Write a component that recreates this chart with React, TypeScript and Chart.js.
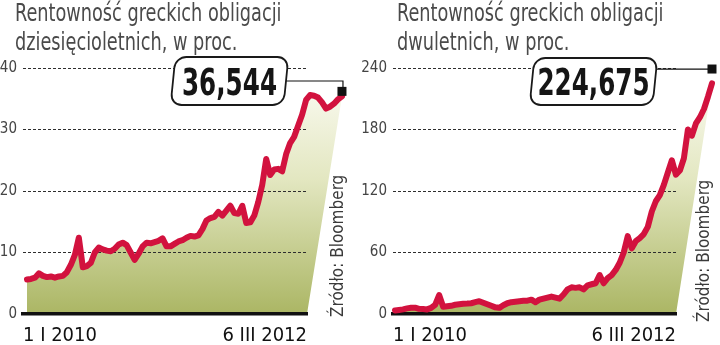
import React, { useEffect, useRef } from "react";
import { Chart, registerables } from "chart.js";

Chart.register(...registerables);

// ---------- data ----------
const tenYearYield = [
  5.6, 5.7, 5.9, 6.6, 6.2, 6.0, 6.1, 5.9, 6.1, 6.2,
  6.8, 8.0, 9.6, 12.4, 7.6, 7.8, 8.3, 10.0, 10.8, 10.5,
  10.3, 10.2, 10.6, 11.3, 11.6, 11.2, 10.0, 8.8, 9.8, 11.0,
  11.6, 11.5, 11.7, 11.9, 12.3, 11.0, 11.0, 11.4, 11.8, 12.0,
  12.4, 12.7, 12.6, 12.8, 13.8, 15.2, 15.6, 15.8, 16.6, 16.0,
  16.8, 17.6, 16.4, 16.3, 17.6, 14.8, 14.9, 16.0, 18.2, 21.0,
  25.2, 22.6, 23.5, 23.6, 23.2, 26.0, 27.8, 28.8, 30.6, 32.4,
  34.8, 35.6, 35.5, 35.2, 34.4, 33.4, 33.7, 34.2, 34.9, 35.4,
];

const twoYearYield = [
  3.5, 4.0, 4.5, 5.5, 6.0, 6.2, 5.0, 4.8, 4.5, 6.0,
  9.0, 18.5, 7.0, 7.5, 8.0, 9.0, 9.5, 10.0, 10.2, 10.5,
  11.5, 12.5, 11.0, 9.5, 8.0, 6.5, 6.0, 8.5, 10.5, 11.5,
  12.0, 12.5, 13.0, 13.0, 14.0, 11.5, 14.0, 15.0, 16.0, 17.0,
  16.0, 15.0, 19.0, 24.0, 26.0, 25.5, 26.0, 24.0, 28.0, 29.0,
  30.0, 38.0, 30.0, 35.0, 38.0, 43.0, 50.0, 60.0, 76.0, 64.0,
  71.0, 74.0, 78.0, 85.0, 100.0, 110.0, 116.0, 126.0, 138.0, 150.0,
  136.0, 140.0, 152.0, 180.0, 174.0, 186.0, 192.0, 200.0, 212.0, 225.0,
];

const xTickLabels = ["1 I 2010", "6 III 2012"];
const tenYearTitle = ["Rentowność greckich obligacji", "dziesięcioletnich, w proc."];
const twoYearTitle = ["Rentowność greckich obligacji", "dwuletnich, w proc."];
const tenYearLastLabel = "36,544";
const twoYearLastLabel = "224,675";
const tenYearMarkerValue = 36.2;
const twoYearMarkerValue = 239;
const sourceText = "Źródło: Bloomberg";

// ---------- styles ----------
const NARROW = '"DejaVu Sans Condensed", "DejaVu Sans", sans-serif';
const LINE_RED = "#d2123e";

type PanelCfg = {
  values: number[];
  yMax: number;
  yStep: number;
  yAxisWidth: number;
  padRight: number;
  xMin: number;
  xMax: number;
  title: string[];
  titleLeft: number;
  lastLabel: string;
  markerValue: number;
  box: { x: number; y: number; w: number; h: number };
  connectorY: number | null;
  source: { x: number; y: number };
};

function decorPlugin(cfg: PanelCfg) {
  return {
    id: "panelDecor",
    beforeDraw(chart: any) {
      const meta = chart.getDatasetMeta(0);
      const pts = meta.data;
      if (!pts || !pts.length) return;
      const ctx = chart.ctx as CanvasRenderingContext2D;
      const ca = chart.chartArea;
      const yScale = chart.scales.y;
      const y0 = yScale.getPixelForValue(0);
      const grad = ctx.createLinearGradient(0, ca.top, 0, y0);
      grad.addColorStop(0, "#fdfdf7");
      grad.addColorStop(0.45, "#e3e7c1");
      grad.addColorStop(1, "#abb664");
      ctx.save();
      ctx.beginPath();
      ctx.moveTo(pts[0].x, y0);
      for (const p of pts) ctx.lineTo(p.x, p.y);
      ctx.lineTo(ca.right, y0);
      ctx.closePath();
      ctx.fillStyle = grad;
      ctx.fill();
      ctx.restore();
    },
    afterDraw(chart: any) {
      const ctx = chart.ctx as CanvasRenderingContext2D;
      const meta = chart.getDatasetMeta(0);
      const pts = meta.data;
      const last = pts[pts.length - 1];
      const yScale = chart.scales.y;
      const my = yScale.getPixelForValue(cfg.markerValue);
      const mx = last.x;
      const { x, y, w, h } = cfg.box;
      const cy = y + h / 2;

      ctx.save();
      // connector
      ctx.strokeStyle = "#111";
      ctx.lineWidth = 1.2;
      ctx.beginPath();
      if (cfg.connectorY !== null) {
        ctx.moveTo(x + w, cfg.connectorY);
        ctx.lineTo(mx + 1, cfg.connectorY);
        ctx.lineTo(mx + 1, my - 4);
      } else {
        ctx.moveTo(x + w, my);
        ctx.lineTo(mx, my);
      }
      ctx.stroke();
      // marker
      ctx.fillStyle = "#111";
      ctx.fillRect(mx - 4.5, my - 4.5, 9, 9);

      // box (slightly skewed)
      ctx.save();
      ctx.translate(x + w / 2, cy);
      ctx.transform(1, 0, -0.1, 1, 0, 0);
      ctx.beginPath();
      (ctx as any).roundRect(-w / 2, -h / 2, w, h, 11);
      ctx.fillStyle = "#ffffff";
      ctx.fill();
      ctx.lineWidth = 1.8;
      ctx.strokeStyle = "#1a1a1a";
      ctx.stroke();
      ctx.restore();

      // value text (horizontally condensed)
      ctx.save();
      ctx.translate(x + w / 2, y + h - 10);
      ctx.scale(0.74, 1);
      ctx.fillStyle = "#151515";
      ctx.font = `bold 37px ${NARROW}`;
      ctx.textAlign = "center";
      ctx.textBaseline = "alphabetic";
      ctx.fillText(cfg.lastLabel, 0, 0);
      ctx.restore();

      // source
      ctx.translate(cfg.source.x, cfg.source.y);
      ctx.rotate(-Math.PI / 2);
      ctx.font = `17px ${NARROW}`;
      ctx.fillStyle = "#3a3a3a";
      ctx.textAlign = "left";
      ctx.textBaseline = "middle";
      ctx.fillText(sourceText, 0, 0);
      ctx.restore();
    },
  };
}

function buildConfig(cfg: PanelCfg): any {
  return {
    type: "line",
    data: {
      datasets: [
        {
          data: cfg.values.map((v, i) => ({ x: i, y: v })),
          borderColor: LINE_RED,
          borderWidth: 6,
          pointRadius: 0,
          tension: 0,
          fill: false,
          clip: false,
          borderJoinStyle: "round",
          borderCapStyle: "round",
        },
      ],
    },
    options: {
      animation: false,
      responsive: false,
      events: [],
      layout: { padding: { left: 0, right: cfg.padRight, top: 68, bottom: 0 } },
      plugins: {
        legend: { display: false },
        tooltip: { enabled: false },
        title: { display: false },
      },
      scales: {
        x: {
          type: "linear",
          bounds: "data",
          afterDataLimits: (s: any) => {
            s.min = cfg.xMin;
            s.max = cfg.xMax;
          },
          afterBuildTicks: (s: any) => {
            s.ticks = [{ value: cfg.xMin }, { value: cfg.xMax }];
          },
          afterFit: (s: any) => {
            s.height = 31;
          },
          grid: { display: false },
          border: { display: true, color: "#111", width: 3.5 },
          ticks: {
            callback: (_v: any, i: number) => xTickLabels[i],
            align: "inner",
            maxRotation: 0,
            autoSkip: false,
            padding: 2,
            color: "#111",
            font: { family: NARROW, size: 20 },
          },
        },
        y: {
          min: 0,
          max: cfg.yMax,
          afterFit: (s: any) => {
            s.width = cfg.yAxisWidth;
          },
          grid: {
            drawTicks: false,
            lineWidth: 1,
            color: (c: any) =>
              c.tick && c.tick.value === 0 ? "rgba(0,0,0,0)" : "#2e2e2e",
          },
          border: { display: false, dash: [3, 2] },
          ticks: {
            stepSize: cfg.yStep,
            padding: 6,
            color: "#444",
            font: { family: NARROW, size: 15 },
          },
        },
      },
    },
    plugins: [decorPlugin(cfg)],
  };
}

const leftPanel: PanelCfg = {
  values: tenYearYield,
  yMax: 40,
  yStep: 10,
  yAxisWidth: 23,
  padRight: 53,
  xMin: -1.003,
  xMax: 70.23,
  title: tenYearTitle,
  titleLeft: 15,
  lastLabel: tenYearLastLabel,
  markerValue: tenYearMarkerValue,
  box: { x: 173, y: 57, w: 113, h: 48 },
  connectorY: 81,
  source: { x: 339, y: 317 },
};

const rightPanel: PanelCfg = {
  values: twoYearYield,
  yMax: 240,
  yStep: 60,
  yAxisWidth: 33,
  padRight: 44,
  xMin: -0.498,
  xMax: 70.03,
  title: twoYearTitle,
  titleLeft: 37,
  lastLabel: twoYearLastLabel,
  markerValue: twoYearMarkerValue,
  box: { x: 172, y: 58, w: 123, h: 47 },
  connectorY: null,
  source: { x: 345, y: 322 },
};

function Panel({ cfg, left }: { cfg: PanelCfg; left: number }) {
  const ref = useRef<HTMLCanvasElement>(null);
  useEffect(() => {
    if (!ref.current) return;
    const chart = new Chart(ref.current, buildConfig(cfg));
    return () => chart.destroy();
  }, [cfg]);
  return (
    <div style={{ position: "absolute", left, top: 0, width: 360, height: 345 }}>
      <canvas
        ref={ref}
        width={360}
        height={345}
        style={{ display: "block", width: 360, height: 345 }}
      />
      <div
        style={{
          position: "absolute",
          left: cfg.titleLeft,
          top: -1,
          fontFamily: NARROW,
          fontSize: 24,
          lineHeight: "29px",
          color: "#4a4a4a",
          whiteSpace: "nowrap",
          transform: "scaleX(0.82)",
          transformOrigin: "left top",
        }}
      >
        {cfg.title.map((t, i) => (
          <div key={i}>{t}</div>
        ))}
      </div>
    </div>
  );
}

export default function App() {
  return (
    <div
      style={{
        position: "absolute",
        left: 0,
        top: 0,
        width: 720,
        height: 345,
        background: "#ffffff",
        overflow: "hidden",
      }}
    >
      <Panel cfg={leftPanel} left={0} />
      <Panel cfg={rightPanel} left={360} />
    </div>
  );
}
